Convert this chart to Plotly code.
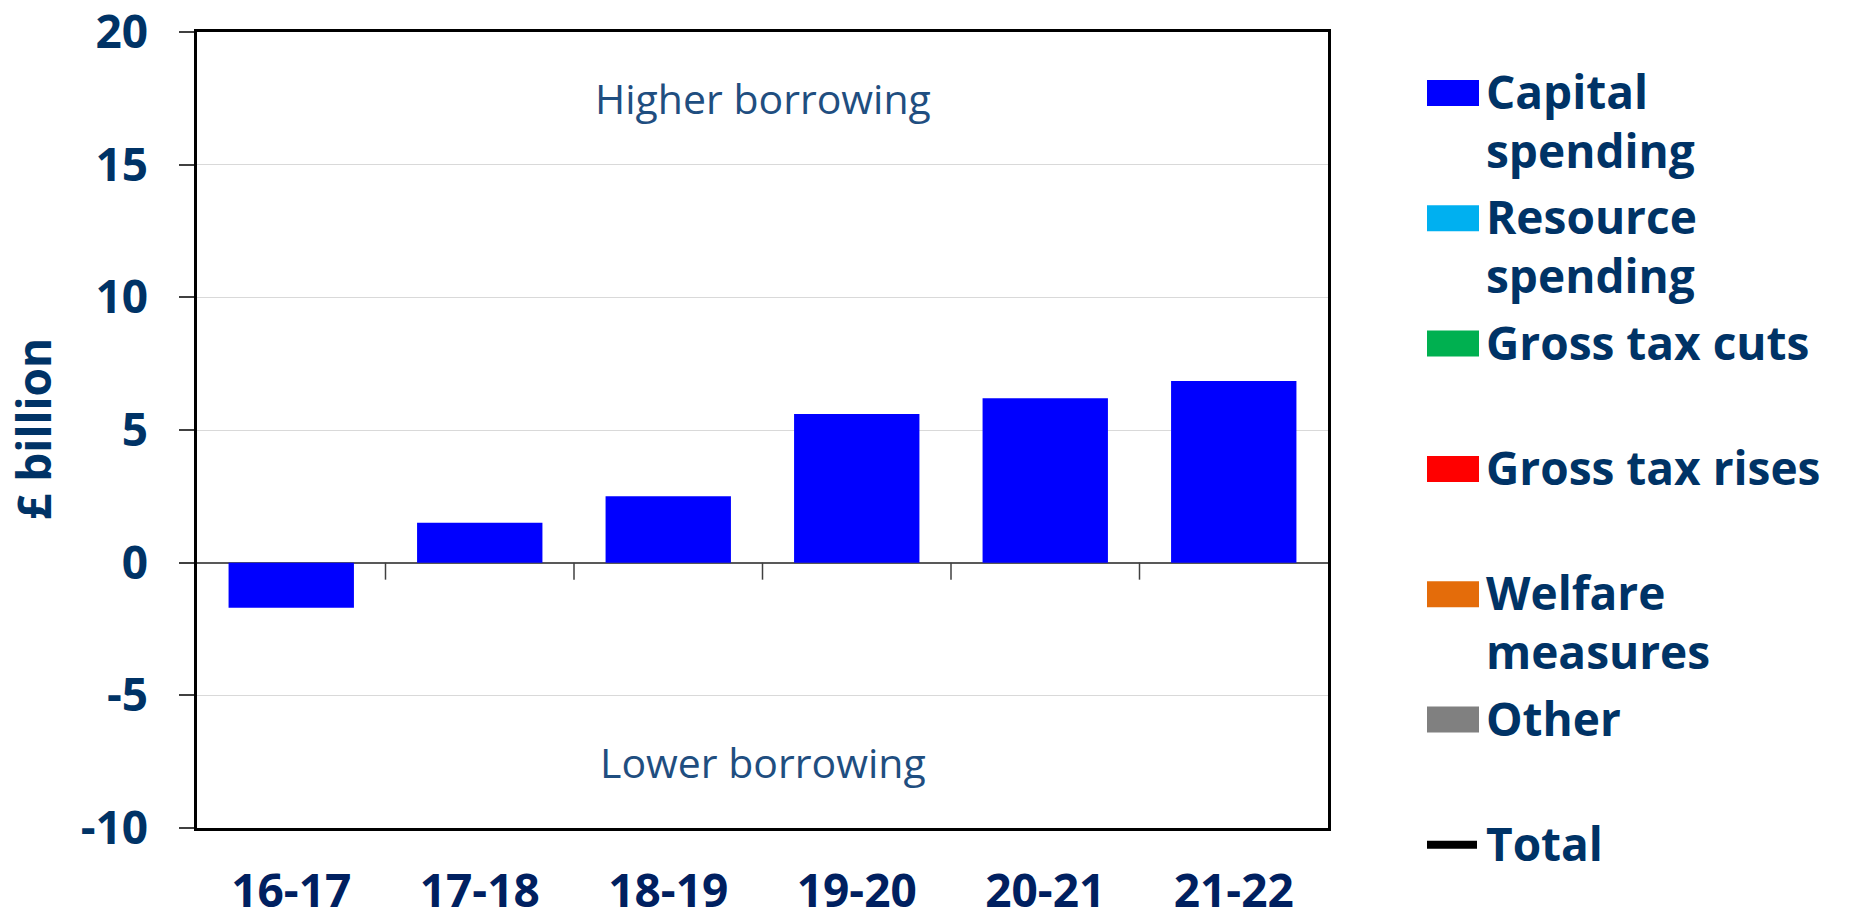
import plotly.graph_objects as go

# Financial years and the capital spending effect on borrowing (£ billion)
years = ["16-17", "17-18", "18-19", "19-20", "20-21", "21-22"]
capital_spending = [-1.7, 1.5, 2.5, 5.6, 6.2, 6.85]

# Legend entries (label lines, swatch colour, swatch kind)
legend_labels = ["Capital\nspending", "Resource\nspending", "Gross tax cuts",
                 "Gross tax rises", "Welfare\nmeasures", "Other", "Total"]
legend_colors = ["#0000FF", "#00B0F0", "#00B050", "#FF0000", "#E46C0A", "#808080", "#000000"]
legend_kinds = ["bar", "bar", "bar", "bar", "bar", "bar", "line"]

W, H = 1852, 920
ML, MR, MT, MB = 197, 524, 32, 92
PW, PH = W - ML - MR, H - MT - MB

FONT = "Open Sans"
NAVY = "#003366"
DARK_NAVY = "#002060"


def px_x(px):
    return (px - ML) / PW


def px_y(py):
    return (H - MB - py) / PH


fig = go.Figure()
fig.add_trace(go.Bar(
    x=years, y=capital_spending, name="Capital spending",
    marker=dict(color=legend_colors[0], line=dict(width=0)),
    width=0.665, showlegend=False, hoverinfo="x+y",
))

shapes = []
# category boundary ticks hanging below the zero line
for i in range(len(years) - 1):
    shapes.append(dict(type="line", xref="x", yref="y", x0=i + 0.5, x1=i + 0.5,
                       ysizemode="pixel", yanchor=0, y0=0, y1=-17,
                       line=dict(color="#404040", width=1.5)))

annotations = [
    dict(text="Higher borrowing", x=2.5, y=17.5, xref="x", yref="y", showarrow=False,
         font=dict(family=FONT, size=41, color="#1F4E80")),
    dict(text="Lower borrowing", x=2.5, y=-7.5, xref="x", yref="y", showarrow=False,
         font=dict(family=FONT, size=41, color="#1F4E80")),
    dict(text="£ billion", textangle=-90, x=px_x(33), y=px_y(429), xref="paper", yref="paper",
         xanchor="center", yanchor="middle", showarrow=False,
         font=dict(family=FONT, size=46, color=NAVY, weight="bold")),
]

# hand-built legend on the right
step = 125.3
first_center = 93
line_gap = 59
for k, (label, color, kind) in enumerate(zip(legend_labels, legend_colors, legend_kinds)):
    cy = first_center + k * step
    if kind == "bar":
        shapes.append(dict(type="rect", xref="paper", yref="paper",
                           x0=px_x(1427), x1=px_x(1479), y0=px_y(cy + 13), y1=px_y(cy - 13),
                           fillcolor=color, line=dict(width=0)))
    else:
        shapes.append(dict(type="line", xref="paper", yref="paper",
                           x0=px_x(1427), x1=px_x(1477), y0=px_y(cy), y1=px_y(cy),
                           line=dict(color=color, width=8)))
    for j, part in enumerate(label.split("\n")):
        annotations.append(dict(text=part, x=px_x(1484), y=px_y(cy - 2 + j * line_gap),
                                xref="paper", yref="paper", xanchor="left", yanchor="middle",
                                showarrow=False,
                                font=dict(family=FONT, size=46, color=NAVY, weight="bold")))

fig.update_layout(
    width=W, height=H,
    margin=dict(l=ML, r=MR, t=MT, b=MB, autoexpand=False),
    paper_bgcolor="white", plot_bgcolor="white",
    bargap=0.335,
    shapes=shapes, annotations=annotations,
    xaxis=dict(
        type="category", range=[-0.5, 5.5],
        showline=True, mirror=True, linecolor="black", linewidth=2.5,
        ticks="", showgrid=False,
        tickfont=dict(family=FONT, size=46, color=DARK_NAVY, weight="bold"),
        ticklabelstandoff=21, ticklabeloverflow="allow",
    ),
    yaxis=dict(
        range=[-10, 20], tickvals=[-10, -5, 0, 5, 10, 15, 20],
        ticktext=["-10", "-5", "0", "5", "10", "15", "20"],
        showline=True, mirror=True, linecolor="black", linewidth=2.5,
        ticks="outside", ticklen=15, tickwidth=1.5, tickcolor="#404040",
        showgrid=True, gridcolor="#D9D9D9", gridwidth=1,
        zeroline=True, zerolinecolor="#595959", zerolinewidth=1.5,
        tickfont=dict(family=FONT, size=46, color=NAVY, weight="bold"),
        ticklabelstandoff=22, ticklabeloverflow="allow",
    ),
)

fig.write_html("out.html")
